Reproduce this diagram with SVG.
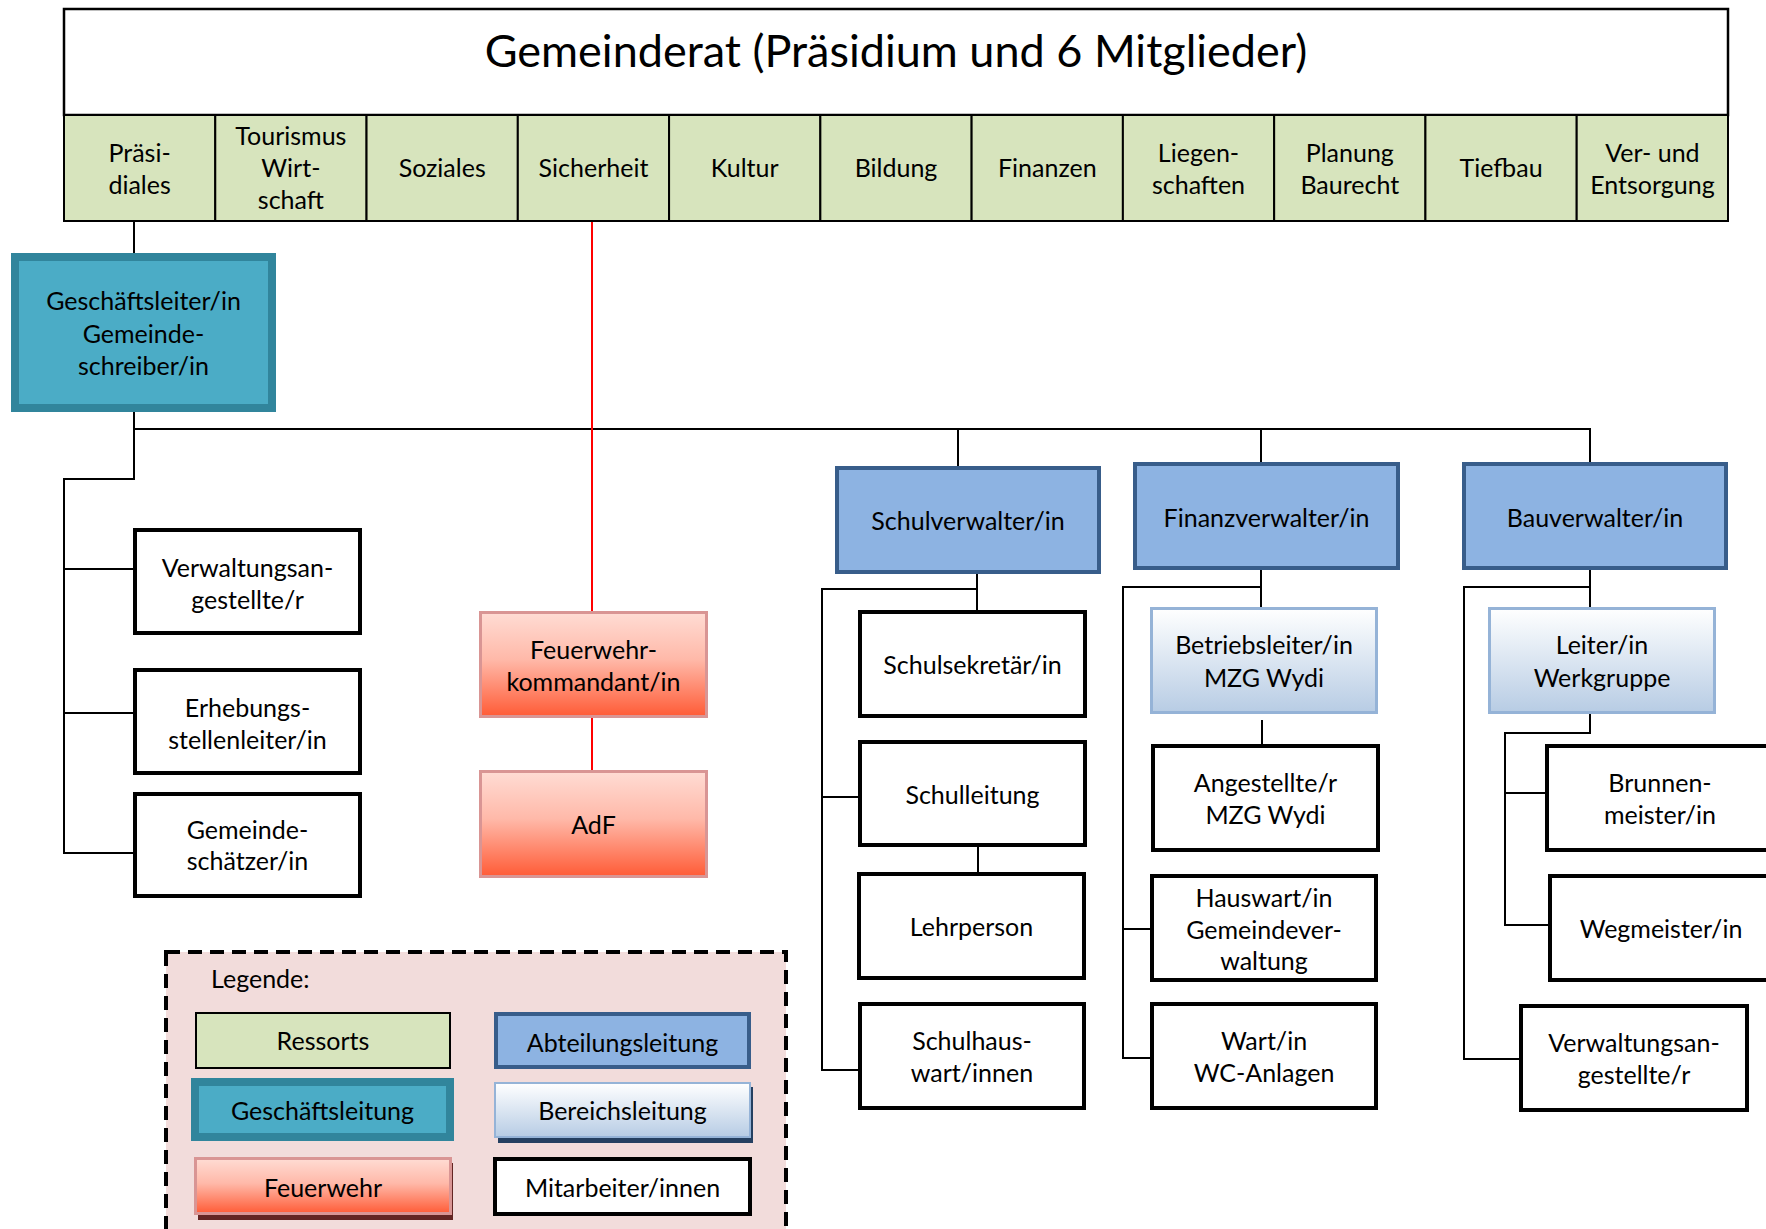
<svg xmlns="http://www.w3.org/2000/svg" width="1766" height="1229" viewBox="0 0 1766 1229">
<defs>
<linearGradient id="gFw" x1="0" y1="0" x2="0" y2="1">
<stop offset="0" stop-color="#FFDCD4"/>
<stop offset="0.45" stop-color="#FFB9A9"/>
<stop offset="1" stop-color="#FF5B36"/>
</linearGradient>
<linearGradient id="gBl" x1="0" y1="0" x2="0" y2="1">
<stop offset="0" stop-color="#FFFFFF"/>
<stop offset="1" stop-color="#B7CCE4"/>
</linearGradient>
<style>
.t{font-family:Lato,"Liberation Sans",sans-serif;font-size:25px;fill:#000;text-anchor:middle}
.title{font-size:45px}
.hdr{fill:#FFFFFF;stroke:#000;stroke-width:2.5}
.res{fill:#D7E4BD;stroke:#000;stroke-width:2}
.gl{fill:#4BACC6;stroke:#31859C;stroke-width:8}
.al{fill:#8DB3E2;stroke:#385D8A;stroke-width:4}
.bl{fill:url(#gBl);stroke:#95B3D7;stroke-width:3}
.fw{fill:url(#gFw);stroke:#D99594;stroke-width:3}
.ma{fill:#FFFFFF;stroke:#000;stroke-width:4}
.ln{fill:none;stroke:#000;stroke-width:2}
.rl{fill:none;stroke:#FF0000;stroke-width:2}
.leg{fill:#F2DCDB;stroke:#000;stroke-width:4;stroke-dasharray:14 8}
</style>
</defs>
<rect width="1766" height="1229" fill="#FFFFFF"/>

<g id="connectors">
<path class="ln" d="M134 221 V254"/>
<path class="ln" d="M134 412 V479 H64 V853 H135 M64 569 H135 M64 713 H135"/>
<path class="ln" d="M134 429 H1590 V463 M958 429 V467 M1261 429 V463"/>
<path class="rl" d="M592 221 V611 M592 718 V770"/>
<path class="ln" d="M977 574 V611 M977 589 H822 V1070 H859 M822 797 H859 M978 847 V873"/>
<path class="ln" d="M1261 570 V608 M1261 587 H1123 V1058 H1151 M1123 929 H1151 M1262 720 V745"/>
<path class="ln" d="M1590 570 V608 M1590 587 H1464 V1059 H1520 M1590 714 V733 H1505 V925 H1549 M1505 793 H1546"/>
</g>

<g id="gemeinderat">
<rect class="hdr" x="64" y="9" width="1664" height="106"/>
<text class="t title" x="896" y="66.5">Gemeinderat (Präsidium und 6 Mitglieder)</text>
</g>

<g id="ressorts">
<rect class="res" x="64" y="115" width="151.27" height="106"/>
<rect class="res" x="215.27" y="115" width="151.27" height="106"/>
<rect class="res" x="366.54" y="115" width="151.27" height="106"/>
<rect class="res" x="517.81" y="115" width="151.27" height="106"/>
<rect class="res" x="669.08" y="115" width="151.27" height="106"/>
<rect class="res" x="820.35" y="115" width="151.27" height="106"/>
<rect class="res" x="971.62" y="115" width="151.27" height="106"/>
<rect class="res" x="1122.89" y="115" width="151.27" height="106"/>
<rect class="res" x="1274.16" y="115" width="151.27" height="106"/>
<rect class="res" x="1425.43" y="115" width="151.27" height="106"/>
<rect class="res" x="1576.7" y="115" width="151.3" height="106"/>
<text class="t" x="139.6" y="162">Präsi-</text><text class="t" x="139.6" y="193.5">diales</text>
<text class="t" x="290.9" y="144.5">Tourismus</text><text class="t" x="290.9" y="177">Wirt-</text><text class="t" x="290.9" y="208.5">schaft</text>
<text class="t" x="442.2" y="177">Soziales</text>
<text class="t" x="593.5" y="177">Sicherheit</text>
<text class="t" x="744.7" y="177">Kultur</text>
<text class="t" x="896" y="177">Bildung</text>
<text class="t" x="1047.3" y="177">Finanzen</text>
<text class="t" x="1198.5" y="162">Liegen-</text><text class="t" x="1198.5" y="193.5">schaften</text>
<text class="t" x="1349.8" y="162">Planung</text><text class="t" x="1349.8" y="193.5">Baurecht</text>
<text class="t" x="1501.1" y="177">Tiefbau</text>
<text class="t" x="1652.4" y="162">Ver- und</text><text class="t" x="1652.4" y="193.5">Entsorgung</text>
</g>

<g id="geschaeftsleiter">
<rect class="gl" x="15" y="257" width="257" height="151"/>
<text class="t" x="143.5" y="310">Geschäftsleiter/in</text>
<text class="t" x="143.5" y="343">Gemeinde-</text>
<text class="t" x="143.5" y="375">schreiber/in</text>
</g>

<g id="verwaltungsangestellte1">
<rect class="ma" x="135" y="530" width="225" height="103"/>
<text class="t" x="247.5" y="577">Verwaltungsan-</text>
<text class="t" x="247.5" y="609">gestellte/r</text>
</g>
<g id="erhebungsstellenleiter">
<rect class="ma" x="135" y="670" width="225" height="103"/>
<text class="t" x="247.5" y="717">Erhebungs-</text>
<text class="t" x="247.5" y="749">stellenleiter/in</text>
</g>
<g id="gemeindeschaetzer">
<rect class="ma" x="135" y="794" width="225" height="102"/>
<text class="t" x="247.5" y="839">Gemeinde-</text>
<text class="t" x="247.5" y="870">schätzer/in</text>
</g>

<g id="feuerwehrkommandant">
<rect class="fw" x="480.5" y="612.5" width="226" height="104"/>
<text class="t" x="593.5" y="659">Feuerwehr-</text>
<text class="t" x="593.5" y="691">kommandant/in</text>
</g>
<g id="adf">
<rect class="fw" x="480.5" y="771.5" width="226" height="105"/>
<text class="t" x="593.5" y="834">AdF</text>
</g>

<g id="schulverwalter">
<rect class="al" x="837" y="468" width="262" height="104"/>
<text class="t" x="968" y="530">Schulverwalter/in</text>
</g>
<g id="finanzverwalter">
<rect class="al" x="1135" y="464" width="263" height="104"/>
<text class="t" x="1266.5" y="527">Finanzverwalter/in</text>
</g>
<g id="bauverwalter">
<rect class="al" x="1464" y="464" width="262" height="104"/>
<text class="t" x="1595" y="527">Bauverwalter/in</text>
</g>

<g id="schulsekretaer">
<rect class="ma" x="860" y="612" width="225" height="104"/>
<text class="t" x="972.5" y="674">Schulsekretär/in</text>
</g>
<g id="schulleitung">
<rect class="ma" x="860" y="742" width="225" height="103"/>
<text class="t" x="972.5" y="804">Schulleitung</text>
</g>
<g id="lehrperson">
<rect class="ma" x="859" y="874" width="225" height="104"/>
<text class="t" x="971.5" y="935.5">Lehrperson</text>
</g>
<g id="schulhauswart">
<rect class="ma" x="860" y="1004" width="224" height="104"/>
<text class="t" x="972" y="1050">Schulhaus-</text>
<text class="t" x="972" y="1082">wart/innen</text>
</g>

<g id="betriebsleiter">
<rect class="bl" x="1151.5" y="608.5" width="225" height="104"/>
<text class="t" x="1264" y="654">Betriebsleiter/in</text>
<text class="t" x="1264" y="687">MZG Wydi</text>
</g>
<g id="angestellte">
<rect class="ma" x="1153" y="746" width="225" height="104"/>
<text class="t" x="1265.5" y="792">Angestellte/r</text>
<text class="t" x="1265.5" y="824">MZG Wydi</text>
</g>
<g id="hauswart">
<rect class="ma" x="1152" y="876" width="224" height="104"/>
<text class="t" x="1264" y="907">Hauswart/in</text>
<text class="t" x="1264" y="939">Gemeindever-</text>
<text class="t" x="1264" y="970">waltung</text>
</g>
<g id="wart">
<rect class="ma" x="1152" y="1004" width="224" height="104"/>
<text class="t" x="1264" y="1050">Wart/in</text>
<text class="t" x="1264" y="1082">WC-Anlagen</text>
</g>

<g id="leiterwerkgruppe">
<rect class="bl" x="1489.5" y="608.5" width="225" height="104"/>
<text class="t" x="1602" y="654">Leiter/in</text>
<text class="t" x="1602" y="687">Werkgruppe</text>
</g>
<g id="brunnenmeister">
<rect class="ma" x="1547" y="746" width="225" height="104"/>
<text class="t" x="1660" y="792">Brunnen-</text>
<text class="t" x="1660" y="824">meister/in</text>
</g>
<g id="wegmeister">
<rect class="ma" x="1550" y="876" width="225" height="104"/>
<text class="t" x="1661" y="938">Wegmeister/in</text>
</g>
<g id="verwaltungsangestellte2">
<rect class="ma" x="1521" y="1006" width="226" height="104"/>
<text class="t" x="1634" y="1052">Verwaltungsan-</text>
<text class="t" x="1634" y="1084">gestellte/r</text>
</g>

<g id="legende">
<rect class="leg" x="166" y="952" width="620" height="300"/>
<text class="t" x="211" y="988" style="text-anchor:start">Legende:</text>
<rect class="res" x="196" y="1013" width="254" height="55"/>
<text class="t" x="323" y="1049.5">Ressorts</text>
<rect class="al" x="496" y="1014" width="253" height="53"/>
<text class="t" x="622.5" y="1051.5">Abteilungsleitung</text>
<rect class="gl" x="195" y="1082" width="255" height="55"/>
<text class="t" x="322.5" y="1119.5">Geschäftsleitung</text>
<rect x="498" y="1087" width="255" height="56" fill="#254061"/>
<rect class="bl" x="495" y="1083" width="255" height="54" style="stroke-width:2"/>
<text class="t" x="622.5" y="1119.5">Bereichsleitung</text>
<rect x="198" y="1163" width="255" height="57" fill="#632523"/>
<rect class="fw" x="195.5" y="1158.5" width="255" height="55"/>
<text class="t" x="323" y="1196.5">Feuerwehr</text>
<rect class="ma" x="495" y="1159" width="255" height="55"/>
<text class="t" x="622.5" y="1196.5">Mitarbeiter/innen</text>
</g>
</svg>
